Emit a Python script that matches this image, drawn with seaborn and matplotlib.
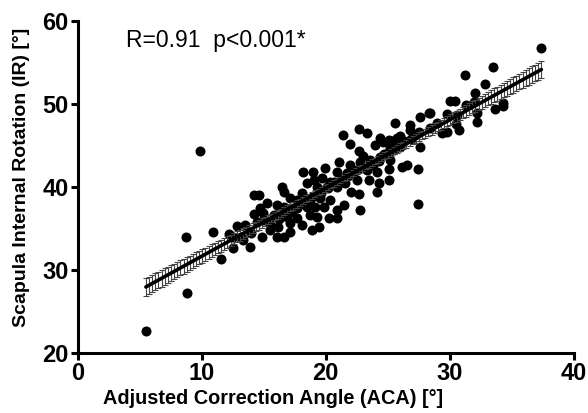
import seaborn as sns
import pandas as pd
import matplotlib.pyplot as plt
import numpy as np

# Werte: Adjusted Correction Angle (ACA) vs. Scapula IR
aca = [5.5, 8.8, 9.9, 21.5, 22.0, 22.7, 22.75, 24.1, 27.45, 30.5,
       8.75, 10.95, 12.24, 11.55, 12.56,
       18.16, 18.97, 19.96, 21.03, 19.02, 19.69, 20.36, 18.48, 19.29, 20.1,
       20.9, 16.47, 16.6, 18.08, 17.14, 17.68, 18.75, 19.56, 20.36, 14.18,
       14.66, 15.26, 14.72, 16.06, 16.6, 17.68, 18.48, 19.15, 19.82, 20.9,
       14.18, 14.98, 15.79, 16.87, 17.68, 18.75, 19.29, 20.23, 20.9, 12.84,
       13.51, 14.45, 14.98, 16.19, 17.14, 18.08, 18.89, 19.42, 13.91, 14.85,
       15.52, 16.06, 16.6, 17.08, 12.56, 13.37, 13.91,
       21.39, 22.65, 23.32, 21.98, 22.65, 25.6, 26.81, 27.62, 28.29, 27.48,
       24.4, 25.07, 25.74, 23.99, 25.2, 26.01, 26.81, 27.62, 21.98, 22.78,
       23.59, 24.4, 25.2, 26.15, 26.55, 27.4, 20.9, 21.71, 22.52, 23.32,
       24.13, 25.07, 21.57, 22.52, 23.45, 24.26, 25.07, 28.43, 28.97,
       37.38, 33.45, 31.25, 32.86, 32.06, 30.04, 30.44, 31.33, 29.77, 30.58,
       31.92, 32.19, 32.19, 33.67, 34.29, 34.29, 30.71, 29.37, 29.77, 28.43,
       # dichte Wolke entlang der Geraden
       17.3, 17.8, 18.3, 19.0, 19.6, 20.2, 20.7, 21.3, 21.8, 22.3,
       22.9, 23.3, 23.8, 24.3, 24.7, 25.1, 25.5, 25.9, 26.3, 26.9,
       27.2, 15.5, 16.2, 16.8, 14.0, 13.2, 23.0, 24.6, 25.3, 26.0]
ir = [22.7, 27.2, 44.4, 37.85, 39.35, 39.15, 37.25, 39.35, 37.95, 47.6,
      33.94, 34.54, 34.34, 31.29, 32.61,
      41.84, 41.84, 42.25, 43.05, 40.84, 41.05, 40.64, 40.44, 40.04, 40.04,
      40.04, 40.04, 39.43, 39.31, 38.64, 38.43, 38.43, 38.64, 38.43, 39.04,
      39.04, 38.11, 37.43, 37.83, 37.63, 37.43, 37.63, 37.63, 37.63, 37.23,
      36.75, 36.83, 36.63, 36.42, 36.22, 36.63, 36.42, 36.22, 36.22, 35.3,
      35.42, 35.82, 36.02, 35.14, 35.63, 35.42, 34.82, 35.14, 34.61, 34.01,
      34.82, 34.01, 33.94, 34.61, 34.01, 33.61, 32.81,
      46.27, 46.95, 46.47, 45.18, 44.37, 47.67, 47.47, 48.47, 48.95, 46.66,
      45.87, 45.66, 45.87, 45.06, 44.66, 44.86, 46.87, 44.86, 42.65, 43.05,
      43.25, 43.65, 43.25, 42.45, 42.65, 42.13, 41.84, 41.65, 42.05, 42.13,
      41.84, 42.13, 40.44, 40.84, 40.84, 40.44, 40.84, 47.07, 47.67,
      56.71, 54.49, 53.49, 52.41, 51.36, 50.36, 50.36, 49.88, 48.8, 48.67,
      50.28, 48.88, 47.87, 49.36, 49.76, 50.16, 46.87, 46.47, 46.66, 48.95,
      37.0, 37.8, 38.0, 38.9, 39.3, 39.9, 40.6, 41.0, 41.3, 41.9,
      42.4, 42.0, 42.7, 43.2, 44.0, 44.2, 44.5, 45.0, 45.5, 45.8,
      46.3, 35.5, 36.2, 36.9, 34.5, 34.0, 43.8, 45.4, 45.6, 46.2]

df = pd.DataFrame({"ACA": aca, "IR": ir})

sns.set_style("ticks", {"axes.edgecolor": "black", "xtick.color": "black",
                        "ytick.color": "black", "text.color": "black",
                        "axes.labelcolor": "black"})
plt.rcParams["font.family"] = ["Liberation Sans", "DejaVu Sans"]

fig = plt.figure(figsize=(5.88, 4.13), dpi=100)
ax = fig.add_axes([0.132, 0.145, 0.844, 0.804])

# lineare Regression + 95% Konfidenzband (als Fehlerbalken wie in Prism)
x = df["ACA"].to_numpy()
y = df["IR"].to_numpy()
b, a = np.polyfit(x, y, 1)
n = len(x)
res = y - (a + b * x)
s = np.sqrt(np.sum(res ** 2) / (n - 2))
sxx = np.sum((x - x.mean()) ** 2)
xg = np.linspace(x.min(), x.max(), 127)
yg = a + b * xg
ci = 1.98 * s * np.sqrt(1 / n + (xg - x.mean()) ** 2 / sxx)

sns.scatterplot(data=df, x="ACA", y="IR", color="black", s=52,
                edgecolor="black", linewidth=0, ax=ax, zorder=3)
ax.errorbar(xg, yg, yerr=ci, fmt="none", ecolor="#444444",
            elinewidth=0.8, capsize=2, capthick=0.8, zorder=4)
ax.plot(xg, yg, color="black", lw=2.6, zorder=5)

ax.set_xlim(0, 40)
ax.set_ylim(20, 60)
ax.set_xticks([0, 10, 20, 30, 40])
ax.set_yticks([20, 30, 40, 50, 60])
sns.despine(ax=ax)
for sp in ["left", "bottom"]:
    ax.spines[sp].set_linewidth(2.2)
ax.tick_params(width=2.2, length=5, labelsize=17, pad=1.5)
for lab in ax.get_xticklabels() + ax.get_yticklabels():
    lab.set_fontweight("bold")

ax.set_xlabel("Adjusted Correction Angle (ACA) [°]", fontsize=14.3,
              fontweight="bold")
ax.set_ylabel("Scapula Internal Rotation (IR) [°]", fontsize=14,
              fontweight="bold")
ax.xaxis.set_label_coords(0.394, -0.108)
ax.yaxis.set_label_coords(-0.096, 0.53)
ax.text(3.9, 57.6, "R=0.91  p<0.001*", fontsize=16.5, ha="left", va="center")

plt.savefig("out.png", dpi=100)
